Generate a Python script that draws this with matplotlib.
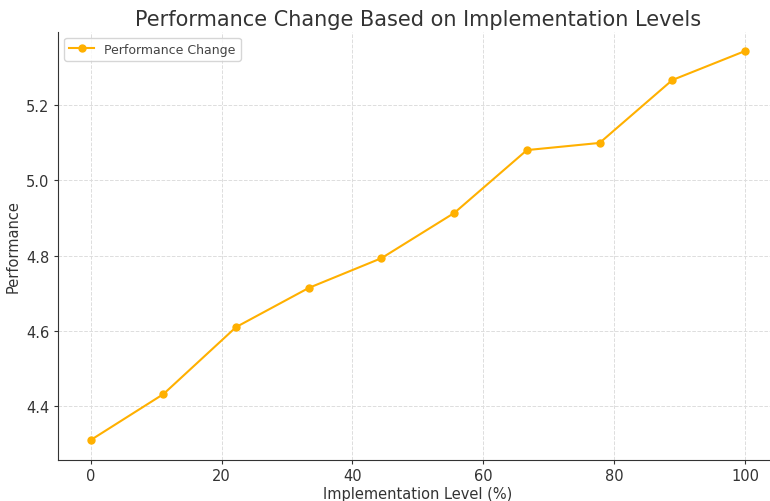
import matplotlib
matplotlib.use("Agg")
import matplotlib.pyplot as plt
import numpy as np

implementation_levels = [0, 11.11, 22.22, 33.33, 44.44, 55.56, 66.67, 77.78, 88.89, 100]
performance = [4.31, 4.432, 4.61, 4.714, 4.793, 4.913, 5.080, 5.099, 5.266, 5.343]

fig = plt.figure(figsize=(7.7, 5.02), dpi=100)
ax = fig.add_axes([58/770, 1 - 460.5/502, (777.7 - 58)/770, (460.5 - 32.6)/502])

ax.plot(implementation_levels, performance, marker='o', color='#FFB000',
        linewidth=1.5, markersize=5, label='Performance Change')

ax.set_title('Performance Change Based on Implementation Levels', fontsize=15, color='#333333', pad=5)
ax.set_xlabel('Implementation Level (%)', fontsize=10.5, color='#333333', labelpad=2)
ax.set_ylabel('Performance', fontsize=10.5, color='#333333', labelpad=4)
ax.tick_params(labelsize=10.5, colors='#333333', length=3, pad=3)
ax.grid(True, linestyle='--', color='#DDDDDD', linewidth=0.7)
ax.spines['top'].set_visible(False)
ax.spines['right'].set_visible(False)
ax.spines['left'].set_color('#333333')
ax.spines['bottom'].set_color('#333333')
leg = ax.legend(loc='upper left', fontsize=9)
for t in leg.get_texts():
    t.set_color('#444444')

fig.savefig('out.png', dpi=100)
